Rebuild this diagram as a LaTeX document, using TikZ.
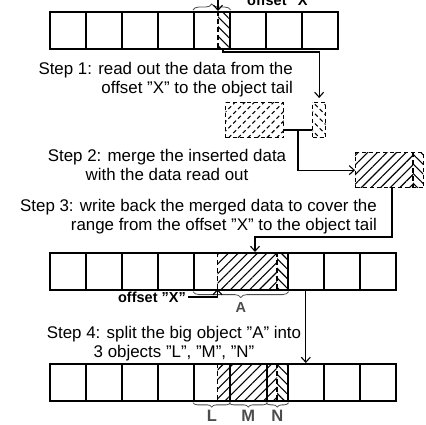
\documentclass[tikz,border=0pt]{standalone}
\usepackage{fontspec}
\setmainfont{Liberation Sans}
\usetikzlibrary{positioning, calc, arrows.meta, decorations.pathreplacing, patterns.meta}

\tikzset{
  cell/.style={draw, line width=1.6pt, minimum height=37pt, inner sep=0pt, anchor=north west},
  datablk/.style={draw, line width=1.3pt, dash pattern=on 4pt off 3pt, minimum height=35pt, inner sep=0pt, anchor=north west},
  hatchne/.style={pattern={Lines[angle=45, distance=6.8pt, line width=1.1pt]}},
  hatchnw/.style={pattern={Lines[angle=-45, distance=6.8pt, line width=1.1pt]}},
  dashline/.style={line width=1.3pt, dash pattern=on 5pt off 3pt},
  link/.style={line width=1.3pt},
  conn/.style={line width=1.3pt, -{Straight Barb[length=5pt, width=9pt, line width=1.1pt]}},
  brc/.style={decorate, decoration={brace, amplitude=6pt, raise=1pt}, line width=0.8pt, gray!60!black},
  brcsmall/.style={brc, decoration={brace, amplitude=4.5pt, raise=1pt}},
  steptext/.style={font=\fontsize{16.9pt}{19.5pt}\selectfont, inner sep=0pt},
  lbl/.style={font=\bfseries\fontsize{14.5pt}{16pt}\selectfont, inner sep=0pt},
  lblbig/.style={font=\bfseries\fontsize{16.5pt}{18pt}\selectfont, inner sep=0pt}
}

\begin{document}
\begin{tikzpicture}[x=1pt, y=-1pt]
    \useasboundingbox (0,0) rectangle (426,424);
    \clip (0,0) rectangle (426,424);

    % Row 1: original object
    \fill[hatchnw] (218,11) rectangle (229,48);
    \foreach \i in {0,...,7}
        \node[cell, minimum width=36pt] (ra\i) at ({49+36*\i},11) {};
    \coordinate (xAtop) at (218,11);
    \draw[dashline] (xAtop) -- (218,48);
    \coordinate (tailbot) at (223,48);
    \draw[brc] (ra4.north west) -- (ra4.north east);
    \node[lbl, anchor=base] (offXtop) at (281,5) {offset "X"};
    \draw[conn] (offXtop.west) -| (xAtop);

    % Step 1
    \node[steptext, align=right, anchor=east] (st1) at (293,79.5)
        {Step 1: read out the data from the\\offset "X" to the object tail};

    % Step 2: inserted data and data read out
    \node[datablk, minimum width=58pt, hatchne] (ins) at (225,102) {};
    \node[datablk, minimum width=13pt, hatchnw] (rd) at (312,102) {};
    \draw[conn, shorten >=4pt] (tailbot) -- ++(0,4) -| (rd.north);
    \coordinate (jy) at (0,130);
    \coordinate (jn) at (298,130);
    \draw[link] (ins.east |- jy) -- (rd.west |- jy);
    \fill[hatchne] (355,152) rectangle (413,187);
    \fill[hatchnw] (413,152) rectangle (423,187);
    \node[datablk, minimum width=68pt] (mrg) at (355,152) {};
    \draw[dashline] (413,152) -- (413,187);
    \draw[conn] (jn) |- (mrg.west);
    \node[steptext, align=center] (st2) at (167,164.8)
        {Step 2: merge the inserted data\\with the data read out};

    % Step 3: write back
    \node[steptext, align=right, anchor=east] (st3) at (377,216.5)
        {Step 3: write back the merged data to cover the\\range from the offset "X" to the object tail};
    \fill[hatchne] (217.5,252) rectangle (277,289);
    \fill[hatchnw] (277,252) rectangle (287,289);
    \foreach \i in {0,...,3}
        \node[cell, minimum width=36pt] (rb\i) at ({49+36*\i},252) {};
    \node[cell, minimum width=94pt] (rbA) at (193,252) {};
    \foreach \i in {5,6,7}
        \node[cell, minimum width=36pt] (rb\i) at ({287+36*(\i-5)},252) {};
    \coordinate (xBbot) at (217.5,289);
    \draw[dashline] (217.5,252) -- (xBbot);
    \draw[dashline] (277,252) -- (277,289);
    \coordinate (wbx) at (392,237);
    \coordinate (wbA) at (255,252);
    \draw[conn] (mrg.south -| wbx) -- (wbx) -| (wbA);
    \draw[brc] (rbA.south east) -- (rbA.south west) node[lbl, midway, below=12pt] (lblA) {A};
    \node[lbl, anchor=east] (offX) at (186,297) {offset "X"};
    \draw[conn] ([xshift=2pt]offX.east) -| (xBbot);

    % Step 4: split into L, M, N
    \node[steptext, align=center] (st4) at (174,343.5)
        {Step 4: split the big object "A" into\\3 objects "L", "M", "N"};
    \fill[hatchne] (217.5,363) rectangle (277,400);
    \fill[hatchnw] (277,363) rectangle (287,400);
    \foreach \i in {0,...,3}
        \node[cell, minimum width=36pt] (rc\i) at ({49+36*\i},363) {};
    \node[cell, minimum width=36pt] (rcL) at (193,363) {};
    \node[cell, minimum width=37pt] (rcM) at (229,363) {};
    \node[cell, minimum width=21pt] (rcN) at (266,363) {};
    \foreach \i in {5,6,7}
        \node[cell, minimum width=36pt] (rc\i) at ({287+36*(\i-5)},363) {};
    \draw[dashline] (217.5,363) -- (217.5,400);
    \draw[dashline] (277,363) -- (277,400);
    \draw[conn] (rb5.south) -- (rc5.north);
    \draw[brcsmall] (rcL.south east) -- (rcL.south west) node[lblbig, midway, below=8pt] (lblL) {L};
    \draw[brcsmall] (rcM.south east) -- (rcM.south west) node[lblbig, midway, below=8pt] (lblM) {M};
    \draw[brcsmall] (rcN.south east) -- (rcN.south west) node[lblbig, midway, below=8pt] (lblN) {N};
\end{tikzpicture}
\end{document}
